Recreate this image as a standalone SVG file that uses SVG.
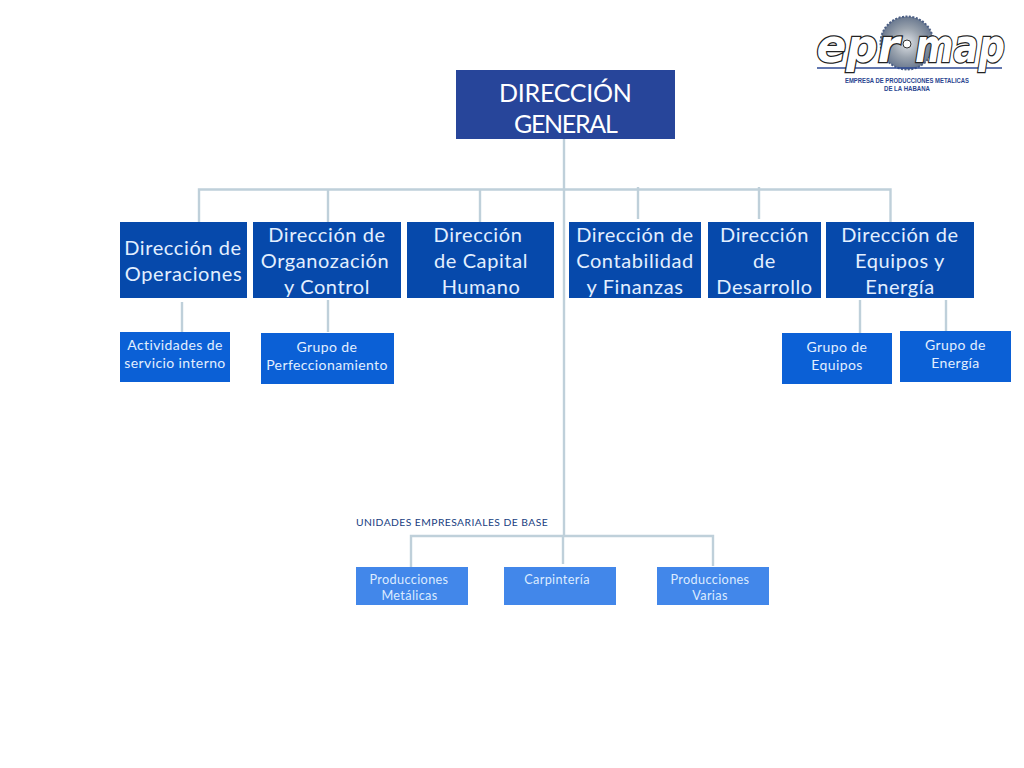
<svg xmlns="http://www.w3.org/2000/svg" width="1024" height="768" viewBox="0 0 1024 768">
<defs>
<radialGradient id="saw" cx="0.5" cy="0.5" r="0.55"><stop offset="0" stop-color="#dfe3e8"/><stop offset="0.5" stop-color="#9aa3ae"/><stop offset="1" stop-color="#5f6f88"/></radialGradient>
</defs>
<style>
text{font-family:"Lato","Liberation Sans",sans-serif;text-anchor:middle}
.c{fill:none;stroke:#bfd0da;stroke-width:2.4}
.top{fill:#27459a}.d{fill:#0649ab}.g{fill:#0b60d6}.u{fill:#4287ea}
.tt{fill:#fff;font-size:25px;letter-spacing:.2px}
.dt{fill:#e2efff;font-size:20px;letter-spacing:.6px}
.gt{fill:#e2efff;font-size:14px;letter-spacing:.4px}
.ut{fill:#dcebff;font-size:12.700px;letter-spacing:.35px}
.script{font-family:"DejaVu Sans",sans-serif;font-style:italic;font-weight:700;font-size:47px;fill:#fff;stroke:#222;stroke-width:2.600;paint-order:stroke}
.lt{font-family:"Liberation Sans",sans-serif;font-weight:700;font-size:7px;fill:#2b4590}
</style>
<rect width="1024" height="768" fill="#fff"/>
<g id="connectors">
<path class="c" d="M564 139V536M199 222V189.500H890.500V222M328 189.500V222M480 189.500V222M638 187V219M759 187V219"/>
<path class="c" d="M182 302V333M328 300V332M860 300V333M946 300V331"/>
<path class="c" d="M411 567V536H713V566M563 536V564"/>
</g>
<g id="direccion-general"><rect class="top" x="456" y="70" width="219" height="69"/><text class="tt" x="565.500" y="102" textLength="133">DIRECCIÓN</text><text class="tt" x="566" y="133" textLength="104">GENERAL</text></g>
<g id="operaciones"><rect class="d" x="120" y="222" width="127" height="76"/><text class="dt" x="183" y="255">Dirección de</text><text class="dt" x="183.500" y="281">Operaciones</text></g>
<g id="organizacion"><rect class="d" x="253" y="222" width="148" height="76"/><text class="dt" x="327" y="242">Dirección de</text><text class="dt" x="325" y="268">Organozación</text><text class="dt" x="327" y="294">y Control</text></g>
<g id="capital-humano"><rect class="d" x="407" y="222" width="147" height="76"/><text class="dt" x="478" y="242">Dirección</text><text class="dt" x="481" y="268">de Capital</text><text class="dt" x="481" y="294">Humano</text></g>
<g id="contabilidad"><rect class="d" x="569" y="222" width="132" height="76"/><text class="dt" x="635" y="242">Dirección de</text><text class="dt" x="635" y="268">Contabilidad</text><text class="dt" x="635" y="294">y Finanzas</text></g>
<g id="desarrollo"><rect class="d" x="708" y="222" width="113" height="76"/><text class="dt" x="764.500" y="242">Dirección</text><text class="dt" x="764.500" y="268">de</text><text class="dt" x="764.500" y="294">Desarrollo</text></g>
<g id="equipos-energia"><rect class="d" x="826" y="222" width="148" height="76"/><text class="dt" x="900" y="242">Dirección de</text><text class="dt" x="900" y="268">Equipos y</text><text class="dt" x="900" y="294">Energía</text></g>
<g id="actividades"><rect class="g" x="120" y="332" width="110" height="50"/><text class="gt" x="175" y="350">Actividades de</text><text class="gt" x="175" y="368">servicio interno</text></g>
<g id="perfeccionamiento"><rect class="g" x="261" y="333" width="133" height="51"/><text class="gt" x="327" y="352">Grupo de</text><text class="gt" x="327" y="370">Perfeccionamiento</text></g>
<g id="grupo-equipos"><rect class="g" x="782" y="333" width="110" height="51"/><text class="gt" x="837" y="352">Grupo de</text><text class="gt" x="837" y="370">Equipos</text></g>
<g id="grupo-energia"><rect class="g" x="900" y="331" width="111" height="51"/><text class="gt" x="955.500" y="350">Grupo de</text><text class="gt" x="955.500" y="368">Energía</text></g>
<text x="452" y="526" style="fill:#17407f;font-size:10.300px;letter-spacing:.45px">UNIDADES EMPRESARIALES DE BASE</text>
<g id="producciones-metalicas"><rect class="u" x="356" y="567" width="112" height="38"/><text class="ut" x="409" y="584">Producciones</text><text class="ut" x="409.500" y="600">Metálicas</text></g>
<g id="carpinteria"><rect class="u" x="504" y="567" width="112" height="38"/><text class="ut" x="557" y="584">Carpintería</text></g>
<g id="producciones-varias"><rect class="u" x="657" y="567" width="112" height="38"/><text class="ut" x="710" y="584">Producciones</text><text class="ut" x="710" y="600">Varias</text></g>
<g id="logo">
<circle cx="907" cy="43" r="26.500" fill="url(#saw)" stroke="#4c5f85" stroke-width="2" stroke-dasharray="2 1.500"/>
<circle cx="907" cy="44" r="4" fill="#fff" stroke="#333" stroke-width="1"/>
<path d="M817 68H1002" stroke="#2e4a94" stroke-width="1.500"/>
<text class="script" x="858" y="62" textLength="83" lengthAdjust="spacingAndGlyphs">epr</text>
<text class="script" x="960" y="62" textLength="90" lengthAdjust="spacingAndGlyphs">map</text>
<text class="lt" x="907" y="83" textLength="124" lengthAdjust="spacingAndGlyphs">EMPRESA DE PRODUCCIONES METALICAS</text>
<text class="lt" x="907" y="91" textLength="46" lengthAdjust="spacingAndGlyphs">DE LA HABANA</text>
</g>
</svg>
